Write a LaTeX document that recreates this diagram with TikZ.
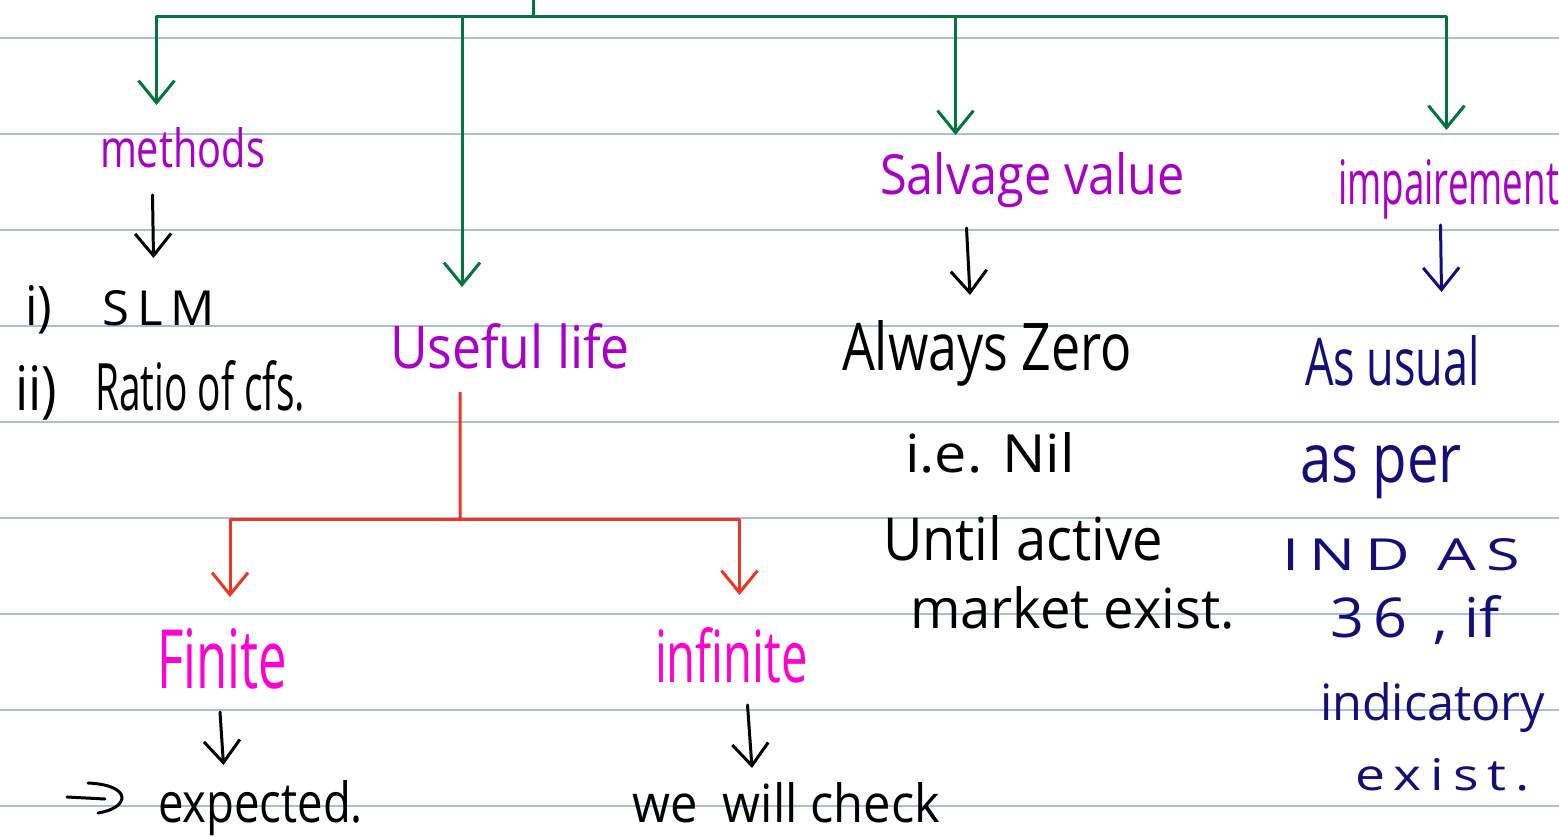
\documentclass[tikz,border=0pt]{standalone}
\usepackage{fontspec}
\setmainfont{Open Sans}
\usetikzlibrary{arrows.meta,calc}
\definecolor{ruleblue}{RGB}{170,188,222}
\definecolor{tgreen}{RGB}{0,118,62}
\definecolor{tpurple}{RGB}{168,0,200}
\definecolor{tmagenta}{RGB}{255,0,210}
\definecolor{tred}{RGB}{238,52,36}
\definecolor{tnavy}{RGB}{22,14,120}
\newcommand{\hw}[3]{\resizebox{#1pt}{#2pt}{#3}}
\begin{document}
\begin{tikzpicture}[x=1pt,y=-1pt,
  lbl/.style={anchor=base west, inner sep=0pt, outer sep=0pt, font=\fontsize{40}{48}\selectfont},
  head/.style={line cap=round, line join=round, -{Straight Barb[length=22pt,width=36pt]}},
  garrow/.style={tgreen, line width=3pt, head},
  rarrow/.style={tred, line width=3pt, head},
  barrow/.style={black, line width=3pt, head},
  narrow/.style={tnavy, line width=3pt, head},
  purp/.style={lbl, text=tpurple},
  mag/.style={lbl, text=tmagenta},
  blk/.style={lbl, text=black},
  nav/.style={lbl, text=tnavy}]
\useasboundingbox (0,0) rectangle (1559,837);
\fill[white] (0,0) rectangle (1559,837);
% ruled paper
\foreach \yy in {38,134,230,326,422,518,614,710,806}
  \draw[ruleblue, line width=1.6pt] (0,\yy) -- (1559,\yy);

% --- labels ---
\node[purp] (methods) at (100,168) {\hw{165}{40}{methods}};
\node[blk] (i1) at (25,325) {\hw{27}{40}{i)}};
\node[blk] (slm) at (102,325) {\hw{113}{35}{S\,L\,M}};
\node[blk] (i2) at (15,410) {\hw{42}{45}{ii)}};
\node[blk] (ratio) at (95,410) {\hw{210}{50}{Ratio of cfs.}};
\node[purp] (useful) at (390,368) {\hw{240}{45}{Useful life}};
\node[mag] (finite) at (157,688) {\hw{130}{60}{Finite}};
\node[mag] (infinite) at (655,682) {\hw{153}{55}{infinite}};
\node[blk] (expected) at (158,822) {\hw{205}{42}{expected.}};
\node[blk] (wecheck) at (632,822) {\hw{308}{40}{we\ \ will check}};
\node[purp] (salvage) at (880,195) {\hw{305}{42}{Salvage value}};
\node[blk] (always) at (842,370) {\hw{290}{50}{Always Zero}};
\node[blk] (ienil) at (905,472) {\hw{170}{40}{i.e. Nil}};
\node[blk] (until) at (883,560) {\hw{280}{45}{Until active}};
\node[blk] (market) at (910,628) {\hw{325}{42}{market exist.}};
\node[purp] (impair) at (1338,205) {\hw{221}{45}{impairement}};
\node[nav] (asusual) at (1305,385) {\hw{175}{50}{As usual}};
\node[nav] (asper) at (1300,482) {\hw{162}{37}{as per}};
\node[nav] (indas) at (1282,570) {\hw{238}{32}{I\,N\,D\;\,A\,S}};
\node[nav] (thirtysix) at (1330,637) {\hw{170}{42}{3\,6\;\,,\;if}};
\node[nav] (indicatory) at (1320,720) {\hw{225}{38}{indicatory}};
\node[nav] (exist) at (1355,790) {\hw{175}{32}{e\,x\,i\,s\,t\,.}};

% --- green top bus ---
\coordinate (hub) at (533,17);
\draw[tgreen, line width=3pt] (hub) -- ++(0,-20);
\draw[garrow] (hub) -| ([xshift=-26pt,yshift=63pt]methods.base);
\draw[garrow] (hub) -| ([xshift=-48pt,yshift=81pt]useful.base);
\draw[garrow] (hub) -| ([xshift=-77pt,yshift=60pt]salvage.base);
\draw[garrow] (hub) -| ([xshift=-2pt,yshift=75pt]impair.base);

% --- black / navy arrows ---
\draw[barrow] ([xshift=-30pt,yshift=-27pt]methods.base) -- ([xshift=-5pt,yshift=67pt]slm.base);
\draw[barrow] ([xshift=-66pt,yshift=-33pt]salvage.base) -- ([xshift=-17pt,yshift=75pt]always.base);
\draw[narrow] ([xshift=-8pt,yshift=-20pt]impair.base) -- ([xshift=49pt,yshift=93pt]asusual.base);
\draw[barrow] ([xshift=-2pt,yshift=-24pt]finite.base) -- ([xshift=-37pt,yshift=57pt]expected.base);
\draw[barrow] ([xshift=16pt,yshift=-23pt]infinite.base) -- ([xshift=-34pt,yshift=54pt]wecheck.base);

% --- red fork ---
\coordinate (fork) at (460,519);
\draw[tred, line width=3pt] ([xshift=-50pt,yshift=-24pt]useful.base) -- (fork);
\draw[rarrow] (fork) -| ([xshift=8pt,yshift=91pt]finite.base);
\draw[rarrow] (fork) -| ([xshift=8pt,yshift=87pt]infinite.base);

% --- small hand arrow before "expected." ---
\coordinate (cstart) at (67,797);
\draw[black, line width=3pt, line cap=round] (cstart) -- ([xshift=-53pt,yshift=23pt]expected.base west);
\draw[black, line width=3pt, line cap=round] ([xshift=-70pt,yshift=39pt]expected.base west)
  .. controls ([xshift=-25pt,yshift=37pt]expected.base west) and ([xshift=-28pt,yshift=14pt]expected.base west) .. ([xshift=-60pt,yshift=9pt]expected.base west);
\end{tikzpicture}
\end{document}
